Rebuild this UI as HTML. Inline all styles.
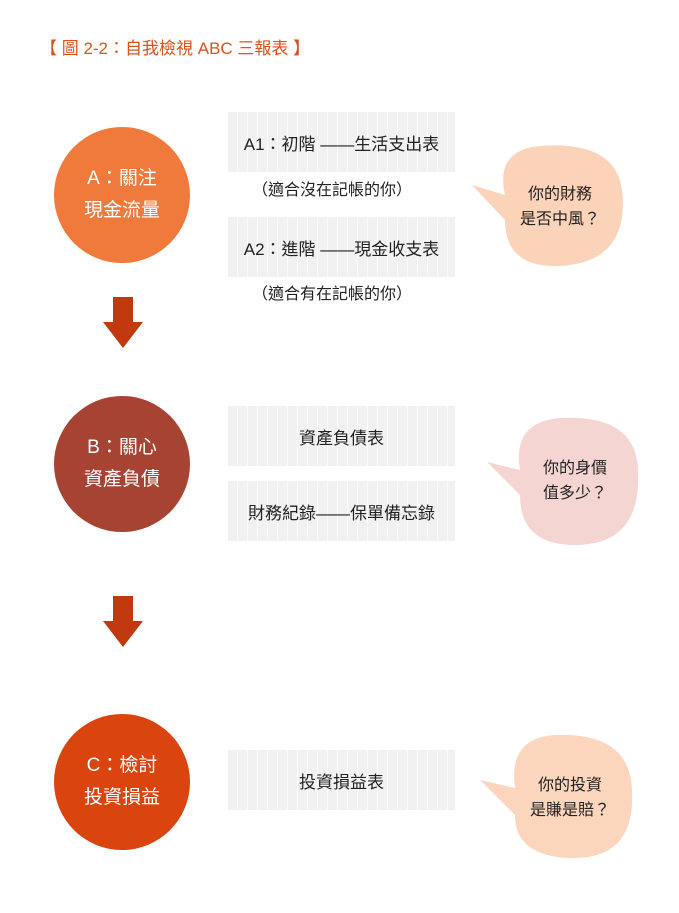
<!DOCTYPE html><html><head><meta charset="utf-8"><style>
body{margin:0;width:679px;height:913px;background:#fff;position:relative;font-family:"Liberation Sans","Noto Sans CJK TC",sans-serif;overflow:hidden}
.t{position:absolute;white-space:nowrap}
.c{position:absolute;width:136px;height:136px;border-radius:50%;color:#fff;font-size:19px;line-height:32px;text-align:center;display:flex;align-items:center;justify-content:center}
.b{position:absolute;left:228px;width:227px;height:60px;background:repeating-linear-gradient(90deg,#f1f1f1 0 9px,#fafafa 9px 10px);display:flex;align-items:center;justify-content:center;font-size:17px;color:#222}
.s{position:absolute;font-size:16px;color:#222;text-align:center;line-height:25px}
</style></head><body>
<div class="t" style="left:40px;top:34px;font-size:17px;color:#d9531e">【 圖 2-2：自我檢視 ABC 三報表 】</div>
<div class="c" style="left:54px;top:127px;background:#ef7a3b">A：關注<br>現金流量</div>
<div class="c" style="left:54px;top:396px;background:#a64333">B：關心<br>資產負債</div>
<div class="c" style="left:54px;top:714px;background:#d9440f">C：檢討<br>投資損益</div>
<div class="b" style="top:112px">A1：初階 ——生活支出表</div>
<div class="t" style="left:252px;top:176px;font-size:16px;color:#222">（適合沒在記帳的你）</div>
<div class="b" style="top:217px">A2：進階 ——現金收支表</div>
<div class="t" style="left:252px;top:280px;font-size:16px;color:#222">（適合有在記帳的你）</div>
<div class="b" style="top:406px">資產負債表</div>
<div class="b" style="top:481px">財務紀錄——保單備忘錄</div>
<div class="b" style="top:750px">投資損益表</div>
<svg style="position:absolute;left:0;top:0" width="679" height="913">
<path d="M113 297h20v25h10l-20 26-20-26h10z" fill="#c0390f"/>
<path d="M113 596h20v25h10l-20 26-20-26h10z" fill="#c0390f"/>
<path d="M472 185 L505 195 Q495 150 540 146 Q615 140 622 190 Q630 262 560 266 Q505 268 505 220 Z" fill="#fad3b8"/>
<path d="M487 462 L520 470 Q512 422 560 418 Q636 414 638 470 Q642 545 575 545 Q520 545 520 495 Z" fill="#f5d5d2"/>
<path d="M480 780 L515 788 Q508 738 555 735 Q630 732 632 790 Q636 860 570 858 Q515 856 515 815 Z" fill="#fbd6bc"/>
</svg>
<div class="s" style="left:505px;top:182px;width:110px">你的財務<br>是否中風？</div>
<div class="s" style="left:520px;top:456px;width:110px">你的身價<br>值多少？</div>
<div class="s" style="left:515px;top:773px;width:110px">你的投資<br>是賺是賠？</div>
</body></html>
